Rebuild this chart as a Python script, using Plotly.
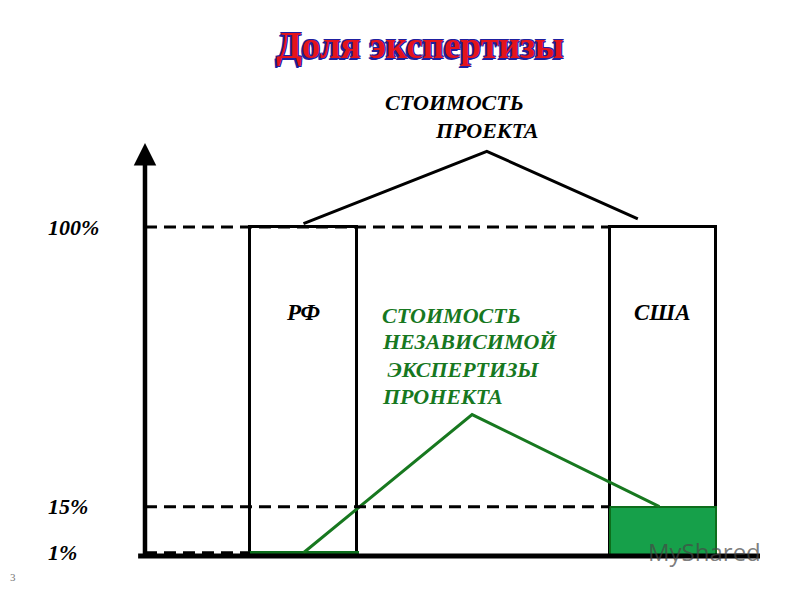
import plotly.graph_objects as go

# ---- data ----
countries = ["РФ", "США"]
project_cost = [100, 100]          # % of project cost (total bar)
expertise_share = [1, 15]          # % share of independent expertise
tick_vals = [1, 15, 100]
tick_text = ["1%", "15%", "100%"]

title_text = "Доля экспертизы"
roof_label = ["СТОИМОСТЬ", "ПРОЕКТА"]
green_label = ["СТОИМОСТЬ", "НЕЗАВИСИМОЙ", "\u00a0ЭКСПЕРТИЗЫ", "ПРОНЕКТА"]

# ---- layout geometry ----
W, H = 800, 600
x_idx = list(range(len(countries)))
BAR_W = 0.2976
X_RANGE = [-0.8442, 1.3811]
Y_RANGE = [-13.37, 169.0]
AXIS_X = -0.4409

SERIF = "Liberation Serif"
GREEN_TXT = "#17781f"
GREEN_FILL = "#16a04a"
GREEN_EDGE = "#0d6e1c"

fig = go.Figure()

# outline bars (total project cost)
fig.add_trace(go.Bar(
    x=x_idx, y=project_cost, width=BAR_W,
    marker=dict(color="white", line=dict(color="black", width=3)),
    hoverinfo="skip", showlegend=False))

# green bars (expertise share)
fig.add_trace(go.Bar(
    x=x_idx, y=expertise_share, width=BAR_W,
    marker=dict(color=["#1a8a2a", GREEN_FILL],
                line=dict(color=GREEN_EDGE, width=[4, 2])),
    hoverinfo="skip", showlegend=False))

# roof connecting the project cost tops
roof_x = [x_idx[0], 0.51, x_idx[1] - 0.07]
roof_y = [project_cost[0] * 1.01, project_cost[0] * 1.23, project_cost[1] * 1.025]
fig.add_trace(go.Scatter(x=roof_x, y=roof_y, mode="lines",
                         line=dict(color="black", width=3),
                         hoverinfo="skip", showlegend=False))

# green connector of expertise tops
gx = [x_idx[0], 0.469, x_idx[1] - 0.01]
gy = [expertise_share[0], 43, expertise_share[1]]
fig.add_trace(go.Scatter(x=gx, y=gy, mode="lines",
                         line=dict(color=GREEN_TXT, width=3),
                         hoverinfo="skip", showlegend=False))

shapes = []
dash = "12px,7px"
# dashed level lines
for v, x_end in [(100, x_idx[1] - BAR_W / 2), (15, x_idx[1] - BAR_W / 2),
                 (1, x_idx[0] - BAR_W / 2)]:
    shapes.append(dict(type="line", xref="x", yref="y", x0=AXIS_X, x1=x_end,
                       y0=v, y1=v, line=dict(color="black", width=3, dash=dash),
                       layer="above"))
# baseline
shapes.append(dict(type="line", xref="x", yref="y", x0=-0.460, x1=1.2698,
                   y0=0, y1=0, line=dict(color="black", width=5), layer="above"))

annotations = []
# vertical axis arrow
annotations.append(dict(x=AXIS_X, y=125.5, xref="x", yref="y", text="",
                        showarrow=True, ax=0, ay=413, arrowhead=2,
                        arrowsize=1.0, arrowwidth=4.5, arrowcolor="black",
                        standoff=0, startstandoff=0))

bold_it = dict(family=SERIF, weight="bold", style="italic")

# country labels in bars
for xi, name in zip(x_idx, countries):
    annotations.append(dict(x=xi, y=73.9, xref="x", yref="y", text=name,
                            showarrow=False,
                            font=dict(size=23, color="black", **bold_it)))

# roof label
for txt, px, py in [(roof_label[0], 383, 103), (roof_label[1], 433, 130)]:
    annotations.append(dict(x=px / W, y=1 - py / H, xref="paper", yref="paper",
                            xanchor="left", yanchor="middle", text=txt,
                            showarrow=False,
                            font=dict(size=22, color="black", **bold_it)))

# green label
for i, line in enumerate(green_label):
    annotations.append(dict(x=380 / W, y=1 - (315 + 27 * i) / H, xref="paper",
                            yref="paper", xanchor="left", yanchor="middle",
                            text=line, showarrow=False,
                            font=dict(size=22, color=GREEN_TXT, **bold_it)))

# slide number
annotations.append(dict(x=13 / W, y=1 - 577 / H, xref="paper", yref="paper",
                        xanchor="center", yanchor="middle",
                        text="3", showarrow=False,
                        font=dict(size=11, color="#777777", family=SERIF)))
# watermark
annotations.append(dict(x=646 / W, y=1 - 551 / H, xref="paper", yref="paper",
                        xanchor="left", yanchor="middle",
                        text="MyShared", showarrow=False,
                        font=dict(size=24, color="rgba(70,70,70,0.7)",
                                  family="Open Sans")))

fig.update_layout(
    width=W, height=H,
    margin=dict(l=0, r=0, t=0, b=0),
    paper_bgcolor="white", plot_bgcolor="white",
    barmode="overlay", bargap=0,
    title=dict(text=title_text, x=420 / W, xanchor="center",
               y=1 - 45 / H, yanchor="middle",
               font=dict(family=SERIF, size=37, weight="bold", color="#e3141c",
                         shadow="-2px 2px 0 #1f1fa0, -1px -1px 0 #1f1fa0, "
                                "1px -1px 0 #1f1fa0, 1px 1px 0 #1f1fa0, "
                                "-1px 1px 0 #1f1fa0")),
    xaxis=dict(range=X_RANGE, visible=False, fixedrange=True),
    yaxis=dict(range=Y_RANGE, anchor="free", position=0.055,
               tickvals=tick_vals, ticktext=tick_text,
               ticklabelposition="inside", ticks="",
               showline=False, showgrid=False, zeroline=False,
               fixedrange=True,
               tickfont=dict(size=22, color="black", **bold_it)),
    shapes=shapes, annotations=annotations,
    showlegend=False,
)

fig.write_html("out.html",
               config={"displayModeBar": False},
               post_script="document.body.style.margin='0';"
                           "document.body.style.padding='0';")
